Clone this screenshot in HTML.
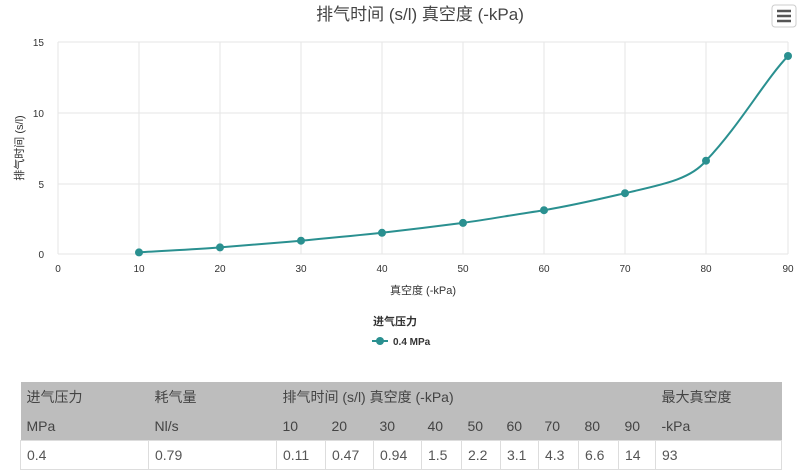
<!DOCTYPE html><html><head><style>
body{margin:0;width:800px;height:476px;background:#fff;font-family:"Liberation Sans","Noto Sans CJK SC",sans-serif;overflow:hidden;position:relative}
table{position:absolute;left:20px;top:382px;width:762px;border-collapse:collapse;font-size:14px;color:#555}
td{padding:0 0 0 6px;height:29px;text-align:left}
tr.h td{background:#bdbdbd;color:#444}
tr.d td{border:1px solid #ddd;background:#fff;height:28px}
</style></head><body>
<svg width="800" height="360" style="position:absolute;left:0;top:0" font-family="Liberation Sans,Noto Sans CJK SC,sans-serif">
<text x="420" y="20" text-anchor="middle" font-size="17" fill="#444">排气时间 (s/l) 真空度 (-kPa)</text>
<rect x="772" y="5" width="24" height="22" rx="3" fill="#fff" stroke="#ccc"/>
<g stroke="#555" stroke-width="2.5"><line x1="777" y1="11" x2="791" y2="11"/><line x1="777" y1="16" x2="791" y2="16"/><line x1="777" y1="21" x2="791" y2="21"/></g>
<g stroke="#e6e6e6" stroke-width="1">
<line x1="58" y1="42" x2="788" y2="42"/><line x1="58" y1="113" x2="788" y2="113"/><line x1="58" y1="184" x2="788" y2="184"/><line x1="58" y1="254" x2="788" y2="254"/>
<line x1="58" y1="42" x2="58" y2="254"/><line x1="139" y1="42" x2="139" y2="254"/><line x1="220" y1="42" x2="220" y2="254"/><line x1="301" y1="42" x2="301" y2="254"/><line x1="382" y1="42" x2="382" y2="254"/><line x1="463" y1="42" x2="463" y2="254"/><line x1="544" y1="42" x2="544" y2="254"/><line x1="625" y1="42" x2="625" y2="254"/><line x1="706" y1="42" x2="706" y2="254"/><line x1="788" y1="42" x2="788" y2="254"/>
</g>
<g font-size="10" fill="#333" text-anchor="end"><text x="44" y="46">15</text><text x="44" y="117">10</text><text x="44" y="188">5</text><text x="44" y="258">0</text></g>
<g font-size="10" fill="#333" text-anchor="middle"><text x="58" y="272">0</text><text x="139" y="272">10</text><text x="220" y="272">20</text><text x="301" y="272">30</text><text x="382" y="272">40</text><text x="463" y="272">50</text><text x="544" y="272">60</text><text x="625" y="272">70</text><text x="706" y="272">80</text><text x="788" y="272">90</text></g>
<text x="423" y="294" text-anchor="middle" font-size="11" fill="#333">真空度 (-kPa)</text>
<text transform="translate(23,148) rotate(-90)" text-anchor="middle" font-size="11" fill="#333">排气时间 (s/l)</text>
<path d="M139,252.4 C170,250.5 195,249.4 220,247.4 C250,245 275,243 301,240.7 C330,238 355,235.7 382,232.8 C410,229.6 435,226.5 463,222.9 C490,219 515,214.5 544,210.2 C575,205 600,199 625,193.2 C660,185 690,180 706,160.7 C740,125 765,80 788,56" fill="none" stroke="#2a9090" stroke-width="2"/>
<g fill="#2a9090"><circle cx="139" cy="252.4" r="4"/><circle cx="220" cy="247.4" r="4"/><circle cx="301" cy="240.7" r="4"/><circle cx="382" cy="232.8" r="4"/><circle cx="463" cy="222.9" r="4"/><circle cx="544" cy="210.2" r="4"/><circle cx="625" cy="193.2" r="4"/><circle cx="706" cy="160.7" r="4"/><circle cx="788" cy="56" r="4"/></g>
<text x="395" y="325" text-anchor="middle" font-size="11" font-weight="bold" fill="#333">进气压力</text>
<line x1="372" y1="341" x2="388" y2="341" stroke="#2a9090" stroke-width="2"/><circle cx="380" cy="341" r="4" fill="#2a9090"/>
<text x="393" y="345" font-size="10" font-weight="bold" fill="#333">0.4 MPa</text>
</svg>
<table>
<tr class="h"><td style="width:122px">进气压力</td><td style="width:122px">耗气量</td><td colspan="9">排气时间 (s/l) 真空度 (-kPa)</td><td>最大真空度</td></tr>
<tr class="h"><td>MPa</td><td>Nl/s</td><td style="width:43px">10</td><td style="width:42px">20</td><td style="width:42px">30</td><td style="width:34px">40</td><td style="width:33px">50</td><td style="width:32px">60</td><td style="width:34px">70</td><td style="width:34px">80</td><td style="width:31px">90</td><td>-kPa</td></tr>
<tr class="d"><td>0.4</td><td>0.79</td><td>0.11</td><td>0.47</td><td>0.94</td><td>1.5</td><td>2.2</td><td>3.1</td><td>4.3</td><td>6.6</td><td>14</td><td>93</td></tr>
</table>
</body></html>
